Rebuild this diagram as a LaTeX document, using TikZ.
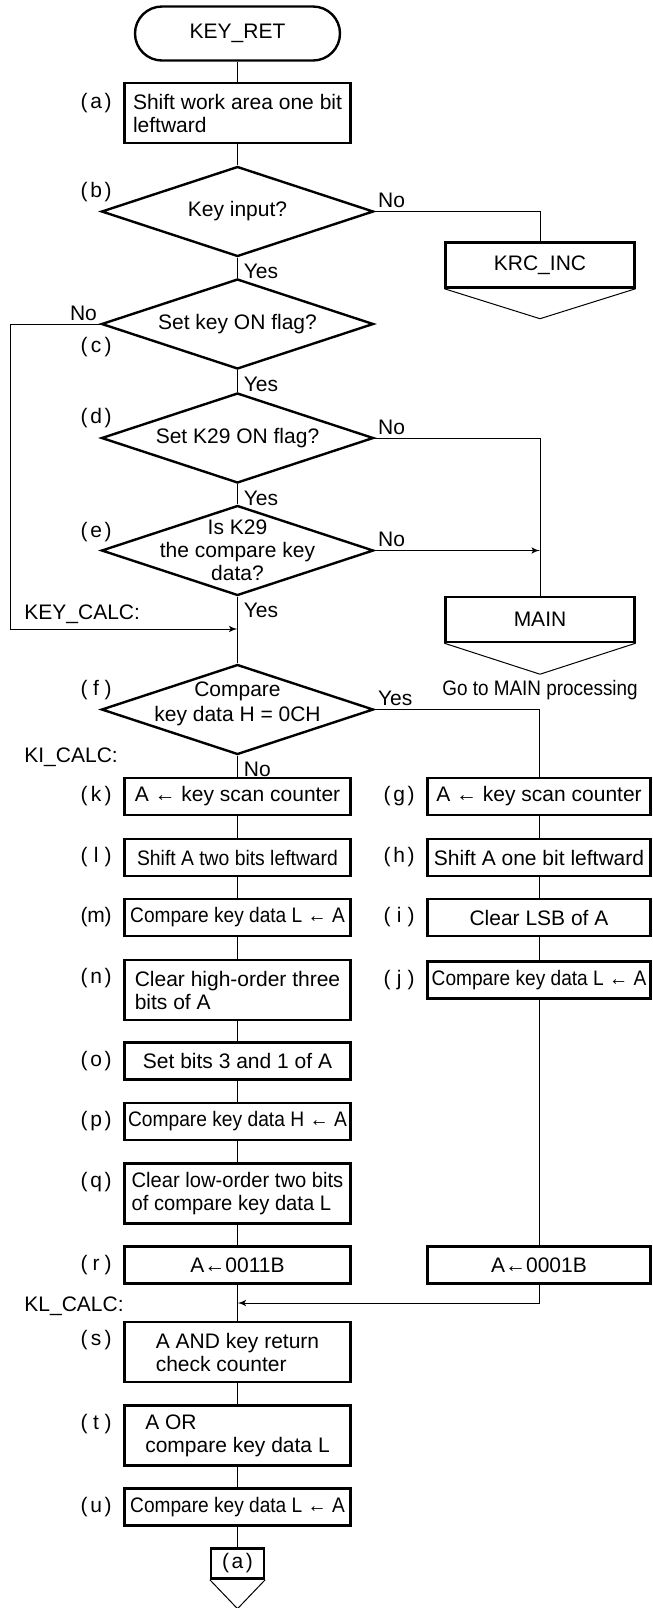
\documentclass[tikz,border=0pt]{standalone}
\usepackage{fontspec}
\setmainfont{Liberation Sans}
\usepackage{graphicx}
\usetikzlibrary{arrows}
\usetikzlibrary{shapes.geometric}
\tikzset{every node/.style = {font=\fontsize{10.5}{11.5}\selectfont},
         proc/.style = {draw, line width=1.2pt, minimum width=113pt,
                        minimum height=18.5pt, inner sep=1pt, align=left},
         proc2/.style = {proc, minimum height=30pt},
         procr/.style = {proc, minimum width=111.5pt},
         jump/.style = {draw, line width=1.2pt, minimum width=94.5pt,
                        minimum height=22.5pt},
         term/.style = {draw, line width=1.2pt, rounded corners=13.5pt,
                        minimum width=102.5pt, minimum height=27pt},
         dec/.style = {draw, diamond, line width=1.2pt, minimum width=136pt,
                       minimum height=45pt, inner sep=0pt},
         flow/.style = {line width=0.5pt},
         tag/.style = {anchor=east, inner sep=0pt},
         ans/.style = {inner sep=1.5pt}}
\newcommand{\tagtext}[1]{(\makebox[8.5pt]{#1})}
\newcommand{\narrow}[2]{\scalebox{#1}[1]{#2}}

\begin{document}
\begin{tikzpicture}[x=0.5pt, y=-0.5pt]
  \useasboundingbox (0, 0) rectangle (653, 1608);

  % main column
  \node [term] (start) at (237.5, 33.5) {KEY\_RET};
  \node [proc2] (a) at (237.5, 113) {Shift work area one bit\\leftward};
  \node [dec, label={center:{Key input?}}] (b) at (237.5, 211.5) {};
  \node [dec, label={center:{Set key ON flag?}}] (c) at (237.5, 324) {};
  \node [dec, label={center:{Set K29 ON flag?}}] (d) at (237.5, 438) {};
  \node [dec, label={[align=center]center:{Is K29\\the compare key\\data?}}] (e) at (237.5, 550.5) {};
  \node [dec, label={[align=center, yshift=3pt, font=\fontsize{10.5}{12.5}\selectfont]center:{Compare\\key data H = 0CH}}] (f) at (237.5, 709.5) {};

  \node [proc] (k) at (237.5, 796.5) {A ← key scan counter};
  \node [proc] (l) at (237.5, 857.5) {\narrow{0.92}{Shift A two bits leftward}};
  \node [proc] (m) at (237.5, 917.5) {\narrow{0.91}{Compare key data L ← A}};
  \node [proc2] (n) at (237.5, 990) {Clear high-order three\\bits of A};
  \node [proc] (o) at (237.5, 1061) {Set bits 3 and 1 of A};
  \node [proc] (p) at (237.5, 1121.5) {\narrow{0.915}{Compare key data H ← A}};
  \node [proc2] (q) at (237.5, 1193.5) {\narrow{0.96}{Clear low-order two bits}\\\narrow{0.96}{of compare key data L}};
  \node [proc] (r) at (237.5, 1265) {A←0011B};
  \node [proc2] (s) at (237.5, 1352) {A AND key return\\check counter};
  \node [proc2] (t) at (237.5, 1435.5) {A OR\\compare key data L};
  \node [proc] (u) at (237.5, 1507) {\narrow{0.91}{Compare key data L ← A}};
  \node [draw, line width=1.2pt, minimum width=26.5pt, minimum height=15pt, inner sep=0pt] (ret) at (237.5, 1563.5) {\tagtext{a}};

  % side column
  \node [jump] (krc) at (540, 265) {KRC\_INC};
  \node [jump] (main) at (540, 619.5) {MAIN};
  \node at (540, 690) {\narrow{0.9}{Go to MAIN processing}};

  \node [procr] (g) at (539, 796.5) {A ← key scan counter};
  \node [procr] (h) at (539, 857.5) {Shift A one bit leftward};
  \node [procr] (i) at (539, 917.5) {Clear LSB of A};
  \node [procr] (j) at (539, 980) {\narrow{0.91}{Compare key data L ← A}};
  \node [procr] (r2) at (539, 1265) {A←0001B};

  \coordinate (keycalc) at (237.5, 629);
  \coordinate (klcalc) at (237.5, 1303);

  % step tags
  \node [tag] at (112, 103) {\tagtext{a}};
  \node [tag] at (112, 192) {\tagtext{b}};
  \node [tag] at (112, 347) {\tagtext{c}};
  \node [tag] at (112, 418) {\tagtext{d}};
  \node [tag] at (112, 532) {\tagtext{e}};
  \node [tag] at (112, 690) {\tagtext{f}};
  \node [tag] at (112, 796.5) {\tagtext{k}};
  \node [tag] at (112, 857.5) {\tagtext{l}};
  \node [tag] at (112, 917.5) {\tagtext{m}};
  \node [tag] at (112, 978.5) {\tagtext{n}};
  \node [tag] at (112, 1061) {\tagtext{o}};
  \node [tag] at (112, 1121.5) {\tagtext{p}};
  \node [tag] at (112, 1182) {\tagtext{q}};
  \node [tag] at (112, 1265) {\tagtext{r}};
  \node [tag] at (112, 1340.5) {\tagtext{s}};
  \node [tag] at (112, 1424) {\tagtext{t}};
  \node [tag] at (112, 1507) {\tagtext{u}};
  \node [tag] at (415, 796.5) {\tagtext{g}};
  \node [tag] at (415, 857.5) {\tagtext{h}};
  \node [tag] at (415, 917.5) {\tagtext{i}};
  \node [tag] at (415, 980) {\tagtext{j}};

  \node [anchor=west, inner sep=0pt] at (24, 614) {KEY\_CALC:};
  \node [anchor=west, inner sep=0pt] at (24, 757) {KI\_CALC:};
  \node [anchor=west, inner sep=0pt] at (24, 1306) {KL\_CALC:};

  % branch answers
  \node [ans, anchor=south west] at (b.east) {No};
  \node [ans, anchor=south east] at (c.west) {No};
  \node [ans, anchor=south west] at (d.east) {No};
  \node [ans, anchor=south west] at (e.east) {No};
  \node [ans, anchor=south west] at (f.east) {Yes};
  \node [anchor=north west, inner sep=3pt] at (b.south) {Yes};
  \node [anchor=north west, inner sep=3pt] at (c.south) {Yes};
  \node [anchor=north west, inner sep=3pt] at (d.south) {Yes};
  \node [anchor=north west, inner sep=3pt] at (e.south) {Yes};
  \node [anchor=north west, inner sep=3pt] at (f.south) {No};

  % connectors
  \foreach \u/\v in {start/a, a/b, b/c, c/d, d/e, e/f, f/k, k/l, l/m, m/n, n/o,
                     o/p, p/q, q/r, r/s, s/t, t/u, u/ret, g/h, h/i, i/j, j/r2}
    \draw [flow] (\u) -- (\v);

  \draw [flow] (b.east) -| (krc.north);
  \draw [flow] (krc.south west) -- ([yshift=-15pt]krc.south) -- (krc.south east);
  \draw [flow, -latex'] (c.west) -| (10, 629) -- (keycalc);
  \draw [flow] (d.east) -| (main.north);
  \draw [flow, -latex'] (e.east) -- (e.east -| main.north);
  \draw [flow] (main.south west) -- ([yshift=-15.5pt]main.south) -- (main.south east);
  \draw [flow] (f.east) -| (g.north);
  \draw [flow, -latex'] (r2.south) |- (klcalc);
  \draw [flow] (ret.south west) -- ([yshift=-14.5pt]ret.south) -- (ret.south east);
\end{tikzpicture}
\end{document}
